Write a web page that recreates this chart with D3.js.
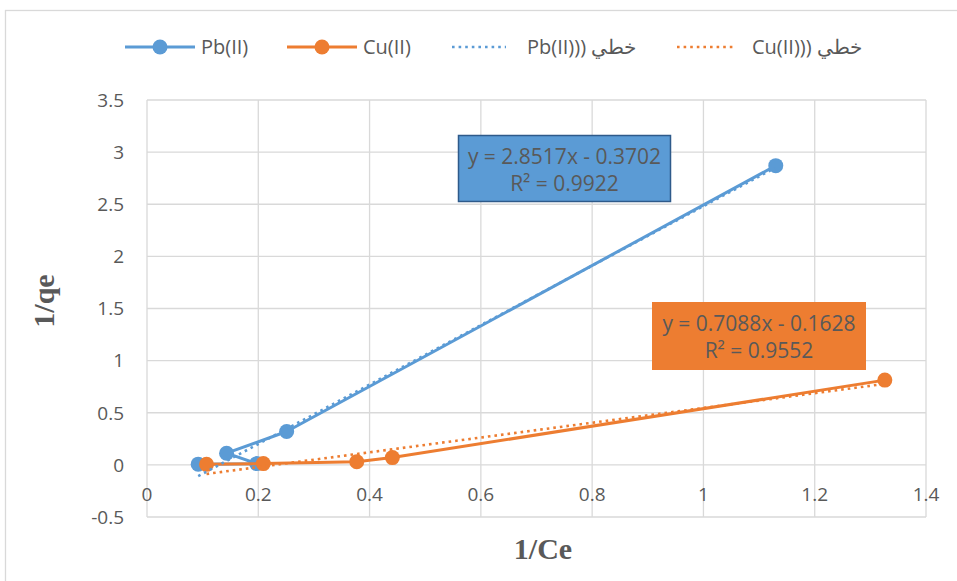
<!DOCTYPE html>
<html><head><meta charset="utf-8">
<script src="https://cdn.jsdelivr.net/npm/d3@7"></script>
<style>
html,body{margin:0;padding:0;background:#fff;}
svg{display:block;}
</style></head>
<body>
<svg id="chart" width="957" height="581"></svg>
<script>
// ---- data ----
const pbX = [1.130, 0.251, 0.143, 0.197, 0.092];
const pbY = [2.870, 0.320, 0.112, 0.012, 0.007];
const cuX = [0.107, 0.209, 0.377, 0.441, 1.326];
const cuY = [0.005, 0.012, 0.030, 0.070, 0.813];
const pbFit = {slope: 2.8517, intercept: -0.3702, r2: 0.9922};
const cuFit = {slope: 0.7088, intercept: -0.1628, r2: 0.9552};
const xTicks = [0, 0.2, 0.4, 0.6, 0.8, 1, 1.2, 1.4];
const yTicks = [-0.5, 0, 0.5, 1, 1.5, 2, 2.5, 3, 3.5];
const legendLabels = ["Pb(II)", "Cu(II)", "Pb(II))) خطي", "Cu(II))) خطي"];
const pbEqText = ["y = 2.8517x - 0.3702", "R² = 0.9922"];
const cuEqText = ["y = 0.7088x - 0.1628", "R² = 0.9552"];

const BLUE = "#5b9bd5", ORANGE = "#ed7d31", TXT = "#595959", GRID = "#d9d9d9";
const SANS = "'Open Sans',sans-serif";
const SERIF = "'Liberation Serif','Times New Roman',serif";
const fmt = d => String(d); // hyphen-minus like the reference

const svg = d3.select("#chart");
// chart area border
svg.append("rect").attr("x", 5.5).attr("y", 10.5).attr("width", 1000).attr("height", 1000)
  .attr("fill", "none").attr("stroke", GRID).attr("stroke-width", 1.3);

const x = d3.scaleLinear().domain([0, 1.4]).range([147, 926]);
const y = d3.scaleLinear().domain([-0.5, 3.5]).range([517, 100]);

// gridlines
const g = svg.append("g");
g.selectAll("line.h").data(yTicks).join("line")
  .attr("x1", x(0)).attr("x2", x(1.4)).attr("y1", d => y(d)).attr("y2", d => y(d))
  .attr("stroke", GRID).attr("stroke-width", 1.3);
g.selectAll("line.v").data(xTicks).join("line")
  .attr("y1", y(-0.5)).attr("y2", y(3.5)).attr("x1", d => x(d)).attr("x2", d => x(d))
  .attr("stroke", GRID).attr("stroke-width", 1.3);

// y tick labels
svg.append("g").selectAll("text").data(yTicks).join("text")
  .attr("x", 124).attr("y", d => y(d)).attr("dy", "0.36em")
  .attr("text-anchor", "end").attr("fill", TXT)
  .style("font-family", SANS).style("font-size", "19px")
  .text(fmt);
// x tick labels
svg.append("g").selectAll("text").data(xTicks).join("text")
  .attr("x", d => x(d)).attr("y", 494).attr("dy", "0.36em")
  .attr("text-anchor", "middle").attr("fill", TXT)
  .style("font-family", SANS).style("font-size", "19px")
  .text(fmt);

// axis titles
svg.append("text").attr("transform", `translate(54,301) rotate(-90)`)
  .attr("text-anchor", "middle").attr("fill", TXT)
  .style("font-family", SERIF).style("font-weight", "bold").style("font-size", "30px")
  .text("1/qe");
svg.append("text").attr("x", 543).attr("y", 559)
  .attr("text-anchor", "middle").attr("fill", TXT)
  .style("font-family", SERIF).style("font-weight", "bold").style("font-size", "30px")
  .text("1/Ce");

const line = d3.line().x(d => x(d[0])).y(d => y(d[1]));
const series = [
  {xs: pbX, ys: pbY, color: BLUE, fit: pbFit},
  {xs: cuX, ys: cuY, color: ORANGE, fit: cuFit}
];
series.forEach(s => {
  const pts = s.xs.map((v, i) => [v, s.ys[i]]);
  svg.append("path").attr("d", line(pts)).attr("fill", "none")
    .attr("stroke", s.color).attr("stroke-width", 3).attr("stroke-linejoin", "round");
  svg.append("g").selectAll("circle").data(pts).join("circle")
    .attr("cx", d => x(d[0])).attr("cy", d => y(d[1])).attr("r", 7.5).attr("fill", s.color);
});
series.forEach(s => {
  const x0 = d3.min(s.xs), x1 = d3.max(s.xs);
  const pts = [[x0, s.fit.slope*x0 + s.fit.intercept], [x1, s.fit.slope*x1 + s.fit.intercept]];
  svg.append("path").attr("d", line(pts)).attr("fill", "none")
    .attr("stroke", s.color).attr("stroke-width", 2.6).attr("stroke-dasharray", "2.6 4");
});

// equation boxes
function eqBox(bx, by, bw, bh, fill, stroke, lines) {
  svg.append("rect").attr("x", bx).attr("y", by).attr("width", bw).attr("height", bh)
    .attr("fill", fill).attr("stroke", stroke || "none").attr("stroke-width", 1.5);
  lines.forEach((t, i) => {
    svg.append("text").attr("x", bx + bw/2).attr("y", by + 21 + i*27).attr("dy", "0.36em")
      .attr("text-anchor", "middle").attr("fill", TXT)
      .style("font-family", SANS).style("font-size", "21px").text(t);
  });
}
eqBox(458.5, 135.5, 212, 66, BLUE, "#2e5a8a", pbEqText);
eqBox(652, 302, 214, 68, ORANGE, null, cuEqText);

// legend
const leg = svg.append("g");
const legItems = [
  {x0: 125, x1: 195, color: BLUE, dotted: false, tx: 201, label: legendLabels[0]},
  {x0: 287, x1: 357, color: ORANGE, dotted: false, tx: 363, label: legendLabels[1]},
  {x0: 452, x1: 506, color: BLUE, dotted: true, tx: 527, label: legendLabels[2]},
  {x0: 677, x1: 735, color: ORANGE, dotted: true, tx: 752, label: legendLabels[3]}
];
legItems.forEach(it => {
  leg.append("line").attr("x1", it.x0).attr("x2", it.x1).attr("y1", 47).attr("y2", 47)
    .attr("stroke", it.color).attr("stroke-width", it.dotted ? 2.6 : 3)
    .attr("stroke-dasharray", it.dotted ? "2.6 4" : null);
  if (!it.dotted) leg.append("circle").attr("cx", (it.x0 + it.x1)/2).attr("cy", 47).attr("r", 7.5).attr("fill", it.color);
  leg.append("text").attr("x", it.tx).attr("y", 47).attr("dy", "0.36em")
    .attr("fill", TXT).style("font-family", SANS).style("font-size", "20px")
    .style("direction", "ltr").style("unicode-bidi", "plaintext")
    .text(it.label);
});
</script>
</body></html>
